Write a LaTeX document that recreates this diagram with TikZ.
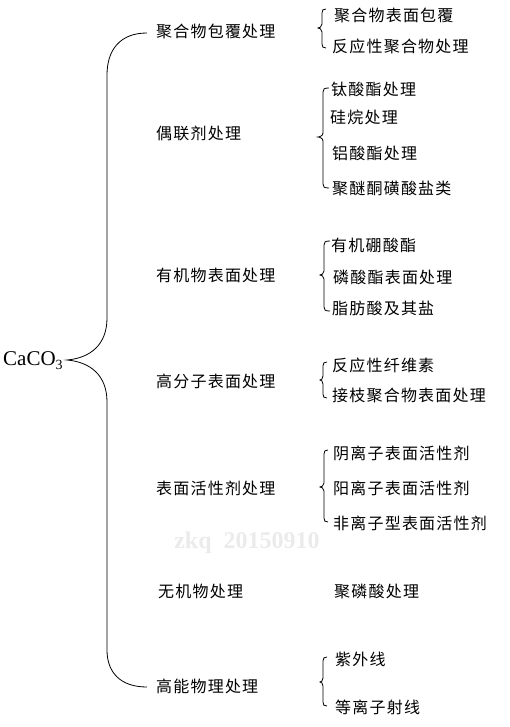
\documentclass[tikz,border=0pt]{standalone}
\usepackage{fontspec}
\setmainfont{Liberation Serif}
\newfontfamily\cjk[LetterSpace=7.5]{Noto Sans CJK SC}
\tikzset{
  lab/.style={anchor=west, inner sep=0pt, font=\cjk\fontsize{16}{16}\selectfont, text height=14.1pt, text depth=1.9pt},
  brace/.style={draw=black, line width=0.8pt},
  wmark/.style={anchor=base, inner sep=0pt, font=\bfseries\fontsize{24}{24}\selectfont, text=black!8}
}
\newcommand\sbr[6]{%
  \draw[brace] (#2,#4) .. controls ({#1+1},#4) and (#1,{#4+1}) .. (#1,{#4+4})
    -- (#1,{#5-4}) .. controls (#1,{#5-1}) and ({#3+1},#5) .. (#3,#5)
    .. controls ({#3+1},#5) and (#1,{#5+1}) .. (#1,{#5+4})
    -- (#1,{#6-4}) .. controls (#1,{#6-1}) and ({#1+1},#6) .. (#2,#6);}
\begin{document}
\begin{tikzpicture}[x=1pt,y=-1pt]
\useasboundingbox (0,0) rectangle (509,727);
\node[wmark] (wm) at (247,548) {zkq\ \ 20150910};
% root
\node[anchor=base west, inner sep=0pt, font=\fontsize{21}{21}\selectfont] (root) at (3,365) {CaCO\raisebox{-4pt}{\fontsize{14}{14}\selectfont 3}};
% main column
\node[lab] (m1) at (156,31) {聚合物包覆处理};
\node[lab] (m2) at (156,133) {偶联剂处理};
\node[lab] (m3) at (156,275) {有机物表面处理};
\node[lab] (m4) at (156,381) {高分子表面处理};
\node[lab] (m5) at (156,488) {表面活性剂处理};
\node[lab] (m6) at (158,591) {无机物处理};
\node[lab] (m7) at (156,686) {高能物理处理};
% right column
\node[lab] (a1) at (334,15) {聚合物表面包覆};
\node[lab] (a2) at (332,46) {反应性聚合物处理};
\node[lab] (b1) at (331,89) {钛酸酯处理};
\node[lab] (b2) at (330,117) {硅烷处理};
\node[lab] (b3) at (332,153) {铝酸酯处理};
\node[lab] (b4) at (332,188) {聚醚酮磺酸盐类};
\node[lab] (c1) at (331,245) {有机硼酸酯};
\node[lab] (c2) at (333,277) {磷酸酯表面处理};
\node[lab] (c3) at (332,308) {脂肪酸及其盐};
\node[lab] (d1) at (332,365) {反应性纤维素};
\node[lab] (d2) at (332,395) {接枝聚合物表面处理};
\node[lab] (e1) at (333,453) {阴离子表面活性剂};
\node[lab] (e2) at (333,488) {阳离子表面活性剂};
\node[lab] (e3) at (333,523) {非离子型表面活性剂};
\node[lab] (f1) at (334,591) {聚磷酸处理};
\node[lab] (g1) at (335,659) {紫外线};
\node[lab] (g2) at (335,707) {等离子射线};
% big brace
\coordinate (bt) at (147,33);
\coordinate (tip) at (67,360);
\coordinate (bb) at (147,687);
\draw[brace] (bt) .. controls (120,33) and (107,50) .. (107,75) -- (107,318)
  .. controls (107,345) and (90,358) .. (tip)
  .. controls (90,362) and (107,375) .. (107,402) -- (107,650)
  .. controls (107,672) and (120,687) .. (bb);
% small braces
\sbr{322}{326}{318}{9}{28}{48}
\sbr{323}{329}{318}{88}{137}{188}
\sbr{324}{330}{320}{241}{275}{311}
\sbr{323}{327}{320}{362}{380}{398}
\sbr{324}{328}{320}{450}{487}{522}
\sbr{323}{327}{320}{657}{682}{706}
\end{tikzpicture}
\end{document}
